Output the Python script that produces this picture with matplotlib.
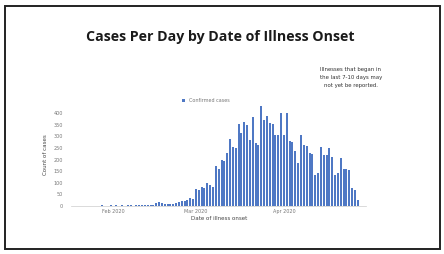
import numpy as np
import pandas as pd
import matplotlib
matplotlib.use("Agg")
import matplotlib.pyplot as plt
import matplotlib.dates as mdates

# daily confirmed cases by date of illness onset
start_date = "2020-01-21"
cases = [
    # Jan 21 - Jan 31
    1, 0, 0, 1, 0, 0, 1, 2, 1, 1, 2,
    # Feb 1 - Feb 15
    1, 2, 1, 2, 1, 2, 2, 1, 2, 3, 2, 3, 2, 3, 4,
    # Feb 16 - Feb 29
    12, 15, 10, 7, 6, 8, 7, 12, 18, 22, 20, 25, 33, 30,
    # Mar 1 - Mar 10
    72, 68, 80, 78, 97, 90, 80, 170, 160, 200,
    # Mar 11 - Mar 20
    195, 227, 290, 255, 250, 355, 313, 362, 350, 285,
    # Mar 21 - Mar 31
    385, 270, 265, 430, 370, 388, 360, 355, 305, 305, 400,
    # Apr 1 - Apr 10
    305, 400, 280, 275, 235, 185, 305, 263, 260, 227,
    # Apr 11 - Apr 20
    225, 135, 140, 255, 220, 218, 250, 213, 135, 140,
    # Apr 21 - Apr 27
    205, 160, 158, 155, 75, 70, 25,
]
dates = pd.date_range(start_date, periods=len(cases), freq="D")

title = "Cases Per Day by Date of Illness Onset"
legend_label = "Confirmed cases"
x_label = "Date of illness onset"
y_label = "Count of cases"
note = "Illnesses that began in\nthe last 7-10 days may\nnot yet be reported."
y_ticks = [0, 50, 100, 150, 200, 250, 300, 350, 400]

bar_color = "#4F78C4"
grey = "#777777"

fig = plt.figure(figsize=(4.44, 2.54), dpi=100)

# slide border
fig.patches.append(plt.Rectangle((0.012, 0.018), 0.978, 0.96, transform=fig.transFigure,
                                 fill=False, edgecolor="#222222", linewidth=1.4))

fig.text(0.497, 0.855, title, ha="center", va="center", fontsize=10.2,
         fontweight="bold", family="Open Sans", color="#1a1a1a")

ax = fig.add_axes([0.16, 0.19, 0.665, 0.40])
ax.bar(dates, cases, width=0.7, color=bar_color, label=legend_label)

ax.set_xlim(pd.Timestamp("2020-01-17"), pd.Timestamp("2020-04-30"))
ax.set_ylim(0, 440)
ax.set_yticks(y_ticks)
ax.xaxis.set_major_locator(mdates.MonthLocator(bymonth=[2, 3, 4]))
ax.xaxis.set_major_formatter(mdates.DateFormatter("%b %Y"))

ax.tick_params(axis="both", labelsize=3.5, colors=grey, length=0, pad=2)
ax.tick_params(axis="y", pad=6)
for s in ["top", "right", "left"]:
    ax.spines[s].set_visible(False)
ax.spines["bottom"].set_color("#cccccc")
ax.spines["bottom"].set_linewidth(0.5)

ax.set_xlabel(x_label, fontsize=4, color="#444444", labelpad=2)
ax.set_ylabel(y_label, fontsize=4, color="#444444", labelpad=4)

ax.legend(loc="upper left", bbox_to_anchor=(0.36, 1.1), fontsize=3.5, frameon=False,
          handlelength=0.6, handleheight=0.6, labelcolor=grey)

fig.text(0.79, 0.695, note, ha="center", va="center", fontsize=3.9, color="#333333",
         linespacing=1.75)

fig.savefig("out.png", dpi=100, facecolor="white")
